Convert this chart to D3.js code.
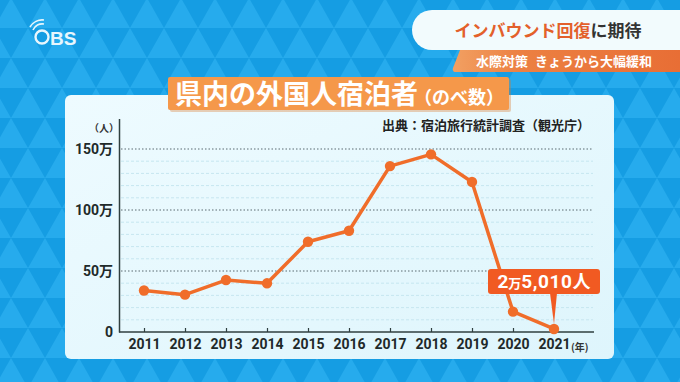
<!DOCTYPE html>
<html><head><meta charset="utf-8">
<script src="https://cdn.jsdelivr.net/npm/d3@7"></script>
<style>
html,body{margin:0;padding:0;background:#179fe4;}
svg{display:block;}
</style></head>
<body>
<svg id="c" width="680" height="382"></svg>
<script>
const years = [2011,2012,2013,2014,2015,2016,2017,2018,2019,2020,2021];
const guests = [340000,306000,426000,399000,740000,830000,1360000,1456000,1230000,167000,25010];
const yTicks = [0,500000,1000000,1500000];
const minorTicks = [100000,200000,300000,400000,600000,700000,800000,900000,1100000,1200000,1300000,1400000];
const titleMain = "県内の外国人宿泊者";
const titleSub = "（のべ数）";
const sourceText = "出典：宿泊旅行統計調査（観光庁）";
const calloutBig = ["2","万","5,010","人"];

const JP = "'Noto Sans CJK JP','Noto Sans',sans-serif";
const NUM = "'Liberation Sans Narrow','Roboto','Noto Sans CJK JP',sans-serif";

const svg = d3.select("#c");
const defs = svg.append("defs");

// triangle background pattern
const pat = defs.append("pattern").attr("id","tri").attr("patternUnits","userSpaceOnUse")
  .attr("width",34).attr("height",60).attr("x",-6).attr("y",-2);
pat.append("rect").attr("width",34).attr("height",60).attr("fill","#159de3");
pat.append("path").attr("d","M17,0 L34,30 L0,30 Z").attr("fill","#26abed");
pat.append("path").attr("d","M0,30 L17,60 L-17,60 Z M34,30 L51,60 L17,60 Z").attr("fill","#26abed");

svg.append("rect").attr("width",680).attr("height",382).attr("fill","url(#tri)");

// panel
const pg = defs.append("linearGradient").attr("id","pg").attr("x1","0").attr("x2","1").attr("y1","0").attr("y2","1");
pg.append("stop").attr("offset","0").attr("stop-color","#eefbff");
pg.append("stop").attr("offset","1").attr("stop-color","#def5fc");
svg.append("rect").attr("x",65).attr("y",95).attr("width",549).attr("height",264).attr("rx",6)
  .attr("fill","url(#pg)");

// scales
const x = d3.scaleLinear().domain([2011,2021]).range([144,554]);
const y = d3.scaleLinear().domain([0,1750000]).range([332,118.5]);

// minor grid
svg.append("g").selectAll("line").data(minorTicks).join("line")
  .attr("x1",121).attr("x2",593).attr("y1",d=>y(d)).attr("y2",d=>y(d))
  .attr("stroke","#c6e6f0").attr("stroke-width",1).attr("stroke-dasharray","3,2");
// major grid
svg.append("g").selectAll("line").data(yTicks.filter(d=>d>0)).join("line")
  .attr("x1",121).attr("x2",593).attr("y1",d=>y(d)).attr("y2",d=>y(d))
  .attr("stroke","#5a6a70").attr("stroke-width",1).attr("stroke-dasharray","1.5,2");

// axes
const fmt = d => d===0 ? "0" : (d/10000)+"万";
const yAxis = svg.append("g").attr("transform","translate(119,0)")
  .call(d3.axisLeft(y).tickValues(yTicks).tickFormat(fmt).tickSize(0).tickPadding(6));
yAxis.select(".domain").attr("stroke","#2f3f3f").attr("stroke-width",1.5);
yAxis.selectAll("text").attr("font-family",NUM).attr("font-size",14).attr("font-weight","bold").attr("fill","#1e2a2a");

const xAxis = svg.append("g").attr("transform","translate(0,332)")
  .call(d3.axisBottom(x).tickValues(years).tickFormat(d3.format("d")).tickSize(-4).tickPadding(7));
xAxis.select(".domain").remove();
svg.append("line").attr("x1",119).attr("x2",594).attr("y1",332).attr("y2",332).attr("stroke","#2f3f3f").attr("stroke-width",1.5);
xAxis.selectAll(".tick line").attr("stroke","#2f3f3f").attr("stroke-width",1.2);
xAxis.selectAll("text").attr("font-family",NUM).attr("font-size",14).attr("font-weight","bold").attr("fill","#1e2a2a");

svg.append("text").attr("x",104).attr("y",132).attr("text-anchor","middle")
  .attr("font-family",JP).attr("font-size",10).attr("font-weight","bold").attr("fill","#333").text("（人）");
svg.append("text").attr("x",571).attr("y",351).attr("text-anchor","start")
  .attr("font-family",JP).attr("font-size",10).attr("font-weight","bold").attr("fill","#333").text("(年)");

// line
const lc = "#f06d2a";
svg.append("path").datum(years.map((yr,i)=>[yr,guests[i]]))
  .attr("d",d3.line().x(d=>x(d[0])).y(d=>y(d[1])))
  .attr("fill","none").attr("stroke",lc).attr("stroke-width",3.5).attr("stroke-linejoin","round");
svg.append("g").selectAll("circle").data(years.map((yr,i)=>[yr,guests[i]])).join("circle")
  .attr("cx",d=>x(d[0])).attr("cy",d=>y(d[1])).attr("r",5.2).attr("fill",lc);

// callout
const lx = x(2021), ly = y(guests[10]);
const cb = svg.append("g");
cb.append("rect").attr("x",488).attr("y",269).attr("width",112).attr("height",25).attr("rx",3).attr("fill","#f15a22");
cb.append("path").attr("d",`M${lx-4},293 L${lx},${ly-5} L${lx+3},293 Z`).attr("fill","#f15a22");
const ct = cb.append("text").attr("x",544).attr("y",288).attr("text-anchor","middle")
  .attr("font-family",NUM).attr("font-weight","bold").attr("fill","#fff");
ct.append("tspan").attr("font-size",19).text(calloutBig[0]);
ct.append("tspan").attr("font-size",13).attr("font-family",JP).text(calloutBig[1]);
ct.append("tspan").attr("font-size",19).attr("letter-spacing",0.6).text(calloutBig[2]);
ct.append("tspan").attr("font-size",18).attr("font-family",JP).text(calloutBig[3]);

// title box
svg.append("rect").attr("x",170).attr("y",79).attr("width",341).attr("height",33).attr("rx",2).attr("fill","#d9782e").attr("opacity",0.35);
svg.append("rect").attr("x",168).attr("y",77).attr("width",341).attr("height",33).attr("rx",2).attr("fill","#f5984a");
const tt = svg.append("text").attr("x",175).attr("y",104).attr("font-family",JP).attr("font-weight","bold").attr("fill","#fff");
tt.append("tspan").attr("font-size",27).text(titleMain);
tt.append("tspan").attr("font-size",18).attr("dx",-4).text(titleSub);

// source
svg.append("text").attr("x",590).attr("y",130).attr("text-anchor","end")
  .attr("font-family",JP).attr("font-size",13).attr("font-weight","bold").attr("fill","#222").text(sourceText);

// top banner
svg.append("rect").attr("x",412).attr("y",10).attr("width",290).attr("height",40).attr("rx",20).attr("fill","#f2fbfd");
const og = defs.append("linearGradient").attr("id","og");
og.append("stop").attr("offset","0").attr("stop-color","#f2a062");
og.append("stop").attr("offset","0.3").attr("stop-color","#ec8042");
og.append("stop").attr("offset","1").attr("stop-color","#e86e35");
svg.append("path").attr("d","M460,50 L680,50 L680,72 L456,72 Q452,72 453,68 Z").attr("fill","url(#og)");
const bt = svg.append("text").attr("x",548).attr("y",37).attr("text-anchor","middle")
  .attr("font-family",JP).attr("font-size",17).attr("font-weight","bold");
bt.append("tspan").attr("fill","#e3602b").text("インバウンド回復");
bt.append("tspan").attr("fill","#333").text("に期待");
const st = svg.append("text").attr("x",564).attr("y",66).attr("text-anchor","middle")
  .attr("font-family",JP).attr("font-size",13).attr("font-weight","bold").attr("fill","#fff");
st.append("tspan").text("水際対策");
st.append("tspan").attr("dx",7).text("きょうから大幅緩和");

// OBS logo
const lg = svg.append("g").attr("fill","none").attr("stroke","#e8f6fd");
lg.append("circle").attr("cx",42).attr("cy",37).attr("r",6.5).attr("stroke-width",2.4);
lg.append("path").attr("d","M33,30 A10,10 0 0 1 44,24").attr("stroke-width",1.6);
lg.append("path").attr("d","M30,27 A14,14 0 0 1 44,20").attr("stroke-width",1.6);
svg.append("text").attr("x",50).attr("y",44.5).attr("font-family","'Liberation Sans',sans-serif")
  .attr("font-size",19).attr("font-weight","bold").attr("fill","#e8f6fd").text("BS");
</script>
</body></html>
